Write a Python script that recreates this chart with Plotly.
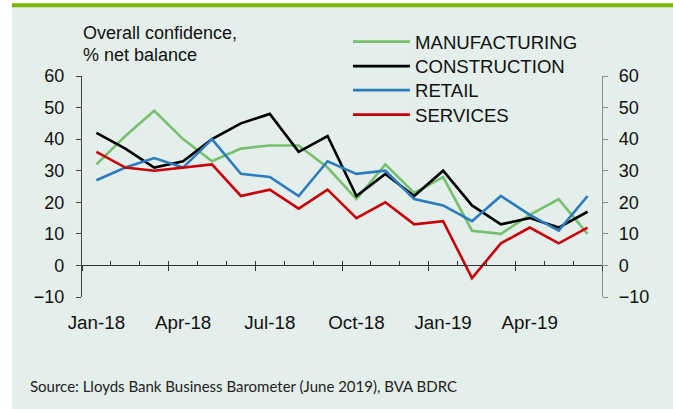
import plotly.graph_objects as go

# Monthly survey readings, Jan-18 .. Jun-19 (% net balance)
months = ["Jan-18", "Feb-18", "Mar-18", "Apr-18", "May-18", "Jun-18",
          "Jul-18", "Aug-18", "Sep-18", "Oct-18", "Nov-18", "Dec-18",
          "Jan-19", "Feb-19", "Mar-19", "Apr-19", "May-19", "Jun-19"]
manufacturing = [32, 41, 49, 40, 33, 37, 38, 38, 31, 21, 32, 23, 28, 11, 10, 16, 21, 10]
construction = [42, 37, 31, 33, 40, 45, 48, 36, 41, 22, 29, 22, 30, 19, 13, 15, 12, 17]
retail = [27, 31, 34, 31, 40, 29, 28, 22, 33, 29, 30, 21, 19, 14, 22, 16, 11, 22]
services = [36, 31, 30, 31, 32, 22, 24, 18, 24, 15, 20, 13, 14, -4, 7, 12, 7, 12]

series_names = ["MANUFACTURING", "CONSTRUCTION", "RETAIL", "SERVICES"]
series_values = [manufacturing, construction, retail, services]
series_colors = ["#77c06d", "#000000", "#2b7bbd", "#c8000a"]

y_ticks = [-10, 0, 10, 20, 30, 40, 50, 60]
x_label_every = 3

W, H = 673, 409
L, R, T, B = 82, 71, 76, 112
PW, PH = W - L - R, H - T - B


def px_x(p):
    return (p - L) / PW


def px_y(p):
    return (H - B - p) / PH


FONT = "Liberation Sans, Arial, sans-serif"
PANEL = "#e4efeb"
n = len(months)
xs = list(range(n))

fig = go.Figure()
legend_ids = ["legend", "legend2", "legend3", "legend4"]
legend_rows = [42, 66.5, 90.5, 115]
for name, vals, col, lg in zip(series_names, series_values, series_colors, legend_ids):
    fig.add_trace(go.Scatter(
        x=xs, y=vals, mode="lines", name=name, legend=lg,
        line=dict(color=col, width=2.6), hovertemplate="%{y}<extra>" + name + "</extra>",
    ))

# right-hand mirror axis
fig.add_trace(go.Scatter(x=[None], y=[None], xaxis="x2", yaxis="y2",
                         showlegend=False, hoverinfo="skip"))

legend_layout = {}
for lg, row in zip(legend_ids, legend_rows):
    legend_layout[lg] = dict(
        x=px_x(348), y=px_y(row), xanchor="left", yanchor="middle",
        bgcolor="rgba(0,0,0,0)", borderwidth=0, itemwidth=57,
        font=dict(family=FONT, size=18.6, color="#111111"),
        itemclick=False, itemdoubleclick=False,
    )

zero_frac = (0 - y_ticks[0]) / (y_ticks[-1] - y_ticks[0])
boundaries = [i - 0.5 for i in range(n + 1)]
major_bounds = [b for b in boundaries if (b + 0.5) % x_label_every == 0]

fig.update_layout(
    width=W, height=H,
    margin=dict(l=L, r=R, t=T, b=B),
    paper_bgcolor="white", plot_bgcolor="rgba(0,0,0,0)",
    showlegend=True,
    font=dict(family=FONT, size=18, color="#111111"),
    xaxis=dict(
        range=[-0.5, n - 0.5], showgrid=False, zeroline=False, showline=False,
        tickmode="array", tickvals=xs[::x_label_every], ticktext=months[::x_label_every],
        ticks="outside", ticklen=8, tickcolor="rgba(0,0,0,0)",
        tickfont=dict(family=FONT, size=18.8, color="#111111"),
    ),
    # baseline at zero with small upward month ticks
    xaxis2=dict(
        overlaying="x", anchor="free", position=zero_frac, matches="x",
        showgrid=False, zeroline=False, showline=True, linecolor="#333333", linewidth=1.3,
        tickmode="array", tickvals=boundaries, ticks="inside", ticklen=4,
        tickcolor="#333333", tickwidth=1, showticklabels=False,
    ),
    # quarterly ticks crossing below the baseline
    xaxis3=dict(
        overlaying="x", anchor="free", position=zero_frac, matches="x",
        showgrid=False, zeroline=False, showline=False,
        tickmode="array", tickvals=major_bounds, ticks="outside", ticklen=5,
        tickcolor="#333333", tickwidth=1.3, showticklabels=False,
    ),
    yaxis=dict(
        range=[y_ticks[0], y_ticks[-1]], tickmode="array", tickvals=y_ticks,
        showgrid=False, zeroline=False, showline=True, linecolor="#444444", linewidth=1.3,
        ticks="outside", ticklen=5, tickcolor="#444444", tickwidth=1.3,
        ticklabelstandoff=8,
        tickfont=dict(family=FONT, size=18, color="#111111"),
    ),
    yaxis2=dict(
        range=[y_ticks[0], y_ticks[-1]], overlaying="y", side="right", anchor="x",
        tickmode="array", tickvals=y_ticks,
        showgrid=False, zeroline=False, showline=True, linecolor="#8c8c8c", linewidth=1.3,
        ticks="outside", ticklen=5, tickcolor="#8c8c8c", tickwidth=1.3,
        ticklabelstandoff=7,
        tickfont=dict(family=FONT, size=18, color="#111111"),
    ),
    **legend_layout,
)

# the x3 axis needs a trace to be drawn
fig.add_trace(go.Scatter(x=[None], y=[None], xaxis="x3", yaxis="y",
                         showlegend=False, hoverinfo="skip"))

# background panel and top green rule
fig.add_shape(type="rect", xref="paper", yref="paper", layer="below",
              x0=px_x(12), x1=px_x(W + 2), y0=px_y(H + 2), y1=px_y(7),
              fillcolor=PANEL, line=dict(width=0))
fig.add_shape(type="rect", xref="paper", yref="paper", layer="below",
              x0=px_x(12), x1=px_x(W + 2), y0=px_y(7.3), y1=px_y(3.3),
              fillcolor="#7ab800", line=dict(width=0))

# axis caption
for txt, yc in [("Overall confidence,", 33), ("% net balance", 55)]:
    fig.add_annotation(text=txt, xref="paper", yref="paper", x=px_x(81), y=px_y(yc),
                       xanchor="left", yanchor="middle", showarrow=False,
                       font=dict(family=FONT, size=18, color="#111111"))

fig.add_annotation(text="Source: Lloyds Bank Business Barometer (June 2019), BVA BDRC",
                   xref="paper", yref="paper", x=px_x(28), y=px_y(386),
                   xanchor="left", yanchor="middle", showarrow=False,
                   font=dict(family="Lato, sans-serif", size=15, color="#222222"))

fig.write_html("out.html")
